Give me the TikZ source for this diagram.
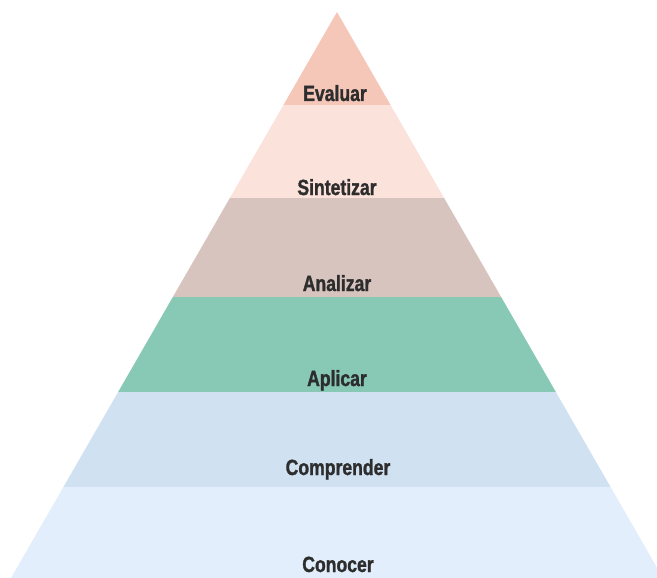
\documentclass[tikz,border=0pt]{standalone}
\usepackage{fontspec}
\newfontfamily\lab[FakeStretch=0.8,FakeBold=1.2]{Liberation Sans Bold}
\definecolor{cEval}{RGB}{244,199,185}
\definecolor{cSint}{RGB}{251,227,220}
\definecolor{cAnal}{RGB}{216,196,190}
\definecolor{cApli}{RGB}{135,201,181}
\definecolor{cComp}{RGB}{208,225,242}
\definecolor{cCono}{RGB}{226,238,251}
\definecolor{labtext}{RGB}{45,45,45}
\begin{document}
\begin{tikzpicture}[x=1pt,y=-1pt,
  lbl/.style={font=\lab\fontsize{22}{24}\selectfont, text=labtext, anchor=base, inner sep=0pt}]
\useasboundingbox (0,0) rectangle (657,578);
\coordinate (apex) at (337,12);
\coordinate (bl) at (11,578);
\coordinate (br) at (663,578);
\begin{scope}
  \clip (apex) -- (br) -- (bl) -- cycle;
  \fill[cEval] (0,0) rectangle (657,105);
  \fill[cSint] (0,105) rectangle (657,198);
  \fill[cAnal] (0,198) rectangle (657,297);
  \fill[cApli] (0,297) rectangle (657,392);
  \fill[cComp] (0,392) rectangle (657,487);
  \fill[cCono] (0,487) rectangle (663,578);
\end{scope}
\node[lbl] (evaluar) at (335,101) {Evaluar};
\node[lbl] (sintetizar) at (337,195) {Sintetizar};
\node[lbl] (analizar) at (337,291) {Analizar};
\node[lbl] (aplicar) at (337,386) {Aplicar};
\node[lbl] (comprender) at (338,475) {Comprender};
\node[lbl] (conocer) at (338,572) {Conocer};
\end{tikzpicture}
\end{document}
